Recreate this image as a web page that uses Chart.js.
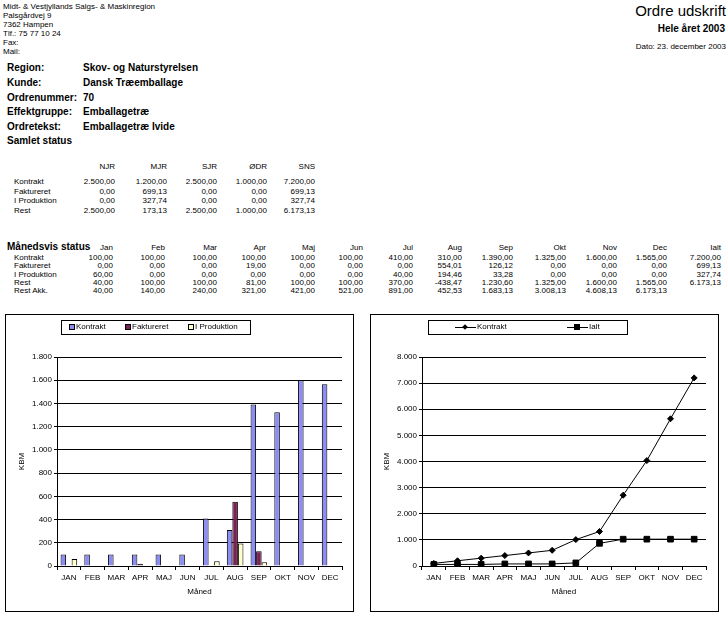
<!DOCTYPE html>
<html lang="da">
<head>
<meta charset="utf-8">
<title>Ordre udskrift</title>
<script src="https://cdn.jsdelivr.net/npm/chart.js@4.4.0/dist/chart.umd.min.js"></script>
<style>
  html, body { margin: 0; padding: 0; background: #fff; }
  body {
    width: 727px; height: 617px; position: relative; overflow: hidden;
    font-family: "Liberation Sans", Arial, sans-serif; color: #000;
  }
  .t { position: absolute; white-space: nowrap; line-height: 1; }
  .box { position: absolute; border: 1px solid #000; background: #fff; }
  .box canvas { display: block; }
  .legend { position: absolute; border: 1px solid #000; background: #fff; height: 13px; }
  .sw { position: absolute; width: 4px; height: 4px; border: 1px solid #000; }
  .ln { position: absolute; height: 1px; background: #000; }
  .mk { position: absolute; background: #000; }
</style>
</head>
<body>
<div class="box" id="leftBox" style="left:5px; top:314px; width:347px; height:296px;">
  <canvas id="barChart"></canvas>
</div>
<div class="box" id="rightBox" style="left:370px; top:314px; width:347px; height:296px;">
  <canvas id="lineChart"></canvas>
</div>

<script>
// Header
const senderLines = ['Midt- & Vestjyllands Salgs- & Maskinregion', 'Palsgårdvej 9', '7362 Hampen', 'Tlf.: 75 77 10 24', 'Fax:', 'Mail:'];
const infoLabels = ['Region:', 'Kunde:', 'Ordrenummer:', 'Effektgruppe:', 'Ordretekst:'];
const infoValues = ['Skov- og Naturstyrelsen', 'Dansk Træemballage', '70', 'Emballagetræ', 'Emballagetræ Ivide'];

// Samlet status
const regions = ['NJR', 'MJR', 'SJR', 'ØDR', 'SNS'];
const samletRows = ['Kontrakt', 'Faktureret', 'I Produktion', 'Rest'];
const samletKontrakt = [2500, 1200, 2500, 1000, 7200];
const samletFaktureret = [0, 699.13, 0, 0, 699.13];
const samletIProduktion = [0, 327.74, 0, 0, 327.74];
const samletRest = [2500, 173.13, 2500, 1000, 6173.13];

// Månedsvis status
const monthNames = ['Jan', 'Feb', 'Mar', 'Apr', 'Maj', 'Jun', 'Jul', 'Aug', 'Sep', 'Okt', 'Nov', 'Dec', 'Ialt'];
const monthRows = ['Kontrakt', 'Faktureret', 'I Produktion', 'Rest', 'Rest Akk.'];
const kontrakt = [100, 100, 100, 100, 100, 100, 410, 310, 1390, 1325, 1600, 1565];
const faktureret = [0, 0, 0, 19, 0, 0, 0, 554.01, 126.12, 0, 0, 0];
const iProduktion = [60, 0, 0, 0, 0, 0, 40, 194.46, 33.28, 0, 0, 0];
const rest = [40, 100, 100, 81, 100, 100, 370, -438.47, 1230.60, 1325, 1600, 1565];
const restAkk = [40, 140, 240, 321, 421, 521, 891, 452.53, 1683.13, 3008.13, 4608.13, 6173.13];
const ialtTotals = [7200, 699.13, 327.74, 6173.13, null];

// Charts
const months = ['JAN', 'FEB', 'MAR', 'APR', 'MAJ', 'JUN', 'JUL', 'AUG', 'SEP', 'OKT', 'NOV', 'DEC'];
const kontraktAkk = [100, 200, 300, 400, 500, 600, 1010, 1320, 2710, 4035, 5635, 7200];
const ialtAkk = [60, 60, 60, 79, 79, 79, 119, 867.47, 1026.87, 1026.87, 1026.87, 1026.87];

function fmt(n, dec) {
  const neg = n < 0;
  const parts = Math.abs(n).toFixed(dec).split('.');
  const int = parts[0].replace(/\B(?=(\d{3})+(?!\d))/g, '.');
  return (neg ? '-' : '') + int + (dec ? ',' + parts[1] : '');
}

// text helper: x is left edge (or right edge when align is 'right'), cy is vertical centre
function put(text, x, cy, size, opts) {
  opts = opts || {};
  const d = document.createElement('div');
  d.className = 't';
  d.textContent = text;
  d.style.fontSize = size + 'px';
  d.style.top = (cy - size / 2) + 'px';
  if (opts.bold) d.style.fontWeight = 'bold';
  if (opts.align === 'right') d.style.right = (727 - x) + 'px';
  else d.style.left = x + 'px';
  (opts.parent || document.body).appendChild(d);
  return d;
}

senderLines.forEach((s, i) => put(s, 3, 6.5 + 9 * i, 8));
put('Ordre udskrift', 726, 10, 15, { align: 'right' });
put('Hele året 2003', 725, 29, 10, { bold: true, align: 'right' });
put('Dato: 23. december 2003', 726, 47, 8, { align: 'right' });

const infoY = [68, 83, 97.5, 112, 127];
infoLabels.forEach((s, i) => {
  put(s, 7, infoY[i], 10, { bold: true });
  put(infoValues[i], 83, infoY[i], 10, { bold: true });
});
put('Samlet status', 7, 141, 10, { bold: true });

const samletX = [115, 167, 217, 267, 315];
const samletY = [182, 191.5, 201, 210.5];
regions.forEach((r, i) => put(r, samletX[i], 167, 8, { align: 'right' }));
[samletKontrakt, samletFaktureret, samletIProduktion, samletRest].forEach((row, r) => {
  put(samletRows[r], 14, samletY[r], 8);
  row.forEach((v, i) => put(fmt(v, 2), samletX[i], samletY[r], 8, { align: 'right' }));
});

put('Månedsvis status', 7, 247, 10, { bold: true });
const monthX = [113, 165, 217, 266, 315, 363, 413, 462, 513, 566, 617, 667, 721];
const monthY = [258, 266.3, 274.7, 283, 291.3];
monthNames.forEach((m, i) => put(m, monthX[i], 248, 8, { align: 'right' }));
[kontrakt, faktureret, iProduktion, rest, restAkk].forEach((row, r) => {
  put(monthRows[r], 14, monthY[r], 8);
  row.forEach((v, i) => put(fmt(v, 2), monthX[i], monthY[r], 8, { align: 'right' }));
  if (ialtTotals[r] !== null) put(fmt(ialtTotals[r], 2), monthX[12], monthY[r], 8, { align: 'right' });
});

// Legends (Excel style boxes)
const barColors = ['#8c8cf5', '#7e1f55', '#ffffcc'];
const barLabels = ['Kontrakt', 'Faktureret', 'I Produktion'];

function makeLegend(left, width) {
  const lg = document.createElement('div');
  lg.className = 'legend';
  lg.style.left = left + 'px';
  lg.style.top = '320px';
  lg.style.width = width + 'px';
  document.body.appendChild(lg);
  return lg;
}
makeLegend(61, 188);
const swX = [69, 125, 188];
barLabels.forEach((s, i) => {
  const sw = document.createElement('div');
  sw.className = 'sw';
  sw.style.left = swX[i] + 'px';
  sw.style.top = '324px';
  sw.style.background = barColors[i];
  document.body.appendChild(sw);
  put(s, swX[i] + 7, 327, 8);
});

makeLegend(428, 198);
[[455, 465, 'Kontrakt', true], [567, 577, 'Ialt', false]].forEach(([x0, mx, label, diamond]) => {
  const ln = document.createElement('div');
  ln.className = 'ln';
  ln.style.left = x0 + 'px';
  ln.style.top = '327px';
  ln.style.width = '21px';
  document.body.appendChild(ln);
  const mk = document.createElement('div');
  mk.className = 'mk';
  if (diamond) {
    mk.style.left = (mx - 2) + 'px'; mk.style.top = '325px';
    mk.style.width = '4px'; mk.style.height = '4px';
    mk.style.transform = 'rotate(45deg)';
  } else {
    mk.style.left = (mx - 3) + 'px'; mk.style.top = '324px';
    mk.style.width = '6px'; mk.style.height = '6px';
  }
  document.body.appendChild(mk);
  put(label, x0 + 22, 327, 8);
});

// Chart.js
Chart.defaults.font.family = '"Liberation Sans", Arial, sans-serif';
Chart.defaults.font.size = 8;
Chart.defaults.color = '#000';

function yAxis(max, step) {
  return {
    min: 0, max: max,
    ticks: { stepSize: step, padding: 2, color: '#000', callback: v => fmt(v, 0) },
    grid: { color: '#000', lineWidth: 1, tickLength: 3, tickColor: '#000' },
    border: { display: true, color: '#000' },
    title: { display: true, text: 'KBM', color: '#000', padding: { top: 11, bottom: 0 } },
    afterFit: s => { s.width = 51; }
  };
}

function xAxis() {
  return {
    offset: true,
    grid: { offset: true, drawOnChartArea: false, tickLength: 4, color: '#000' },
    border: { display: true, color: '#000' },
    ticks: { color: '#000', padding: 3, maxRotation: 0, autoSkip: false },
    title: { display: true, text: 'Måned', color: '#000', padding: { top: 0, bottom: 14 } },
    afterFit: s => { s.height = 45; }
  };
}

const common = {
  responsive: true,
  maintainAspectRatio: false,
  animation: false,
  plugins: { legend: { display: false }, tooltip: { enabled: false } }
};

new Chart(document.getElementById('barChart'), {
  type: 'bar',
  data: {
    labels: months,
    datasets: [kontrakt, faktureret, iProduktion].map((d, i) => ({
      label: barLabels[i],
      data: d,
      backgroundColor: barColors[i],
      borderColor: '#000',
      borderWidth: 1,
      categoryPercentage: 0.7,
      barPercentage: 1.0
    }))
  },
  options: Object.assign({}, common, {
    layout: { padding: { top: 42, right: 11, bottom: 0, left: 0 } },
    scales: { x: xAxis(), y: yAxis(1800, 200) }
  })
});

new Chart(document.getElementById('lineChart'), {
  type: 'line',
  data: {
    labels: months,
    datasets: [
      { label: 'Kontrakt', data: kontraktAkk, borderColor: '#000', borderWidth: 1, pointStyle: 'rectRot',
        pointRadius: 3, pointBackgroundColor: '#000', pointBorderColor: '#000', tension: 0 },
      { label: 'Ialt', data: ialtAkk, borderColor: '#000', borderWidth: 1, pointStyle: 'rect',
        pointRadius: 4, pointBackgroundColor: '#000', pointBorderColor: '#000', tension: 0 }
    ]
  },
  options: Object.assign({}, common, {
    layout: { padding: { top: 42, right: 12, bottom: 0, left: 0 } },
    scales: { x: xAxis(), y: yAxis(8000, 1000) }
  })
});
</script>
</body>
</html>
